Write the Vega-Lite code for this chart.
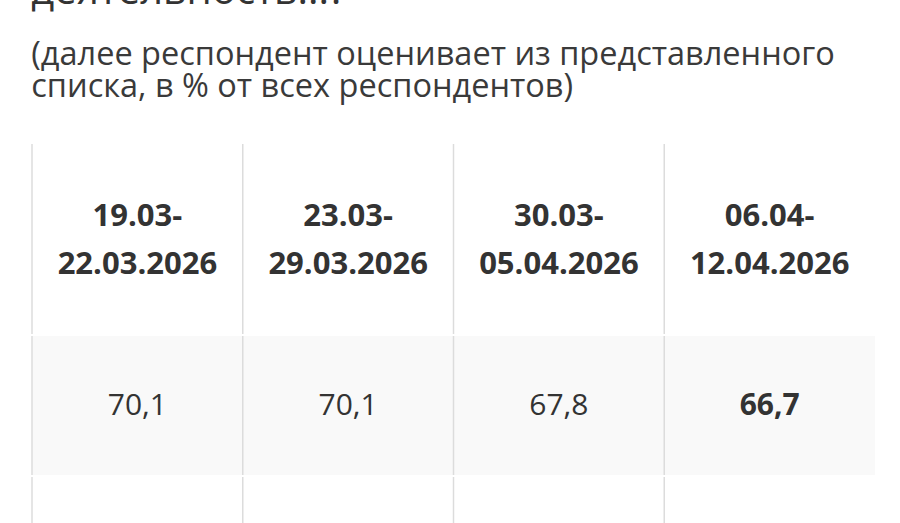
{
  "$schema": "https://vega.github.io/schema/vega-lite/v6.json",
  "description": "Survey table: share of respondents by weekly wave",
  "background": "white",
  "padding": {"left": 31, "right": 26, "top": -29, "bottom": 0},
  "title": {
    "text": "деятельность...?",
    "subtitle": ["(далее респондент оценивает из представленного", "списка, в % от всех респондентов)"],
    "anchor": "start",
    "font": "Open Sans",
    "fontSize": 40,
    "fontWeight": "normal",
    "color": "#333333",
    "subtitleFont": "Open Sans",
    "subtitleFontSize": 32.5,
    "subtitleLineHeight": 32,
    "subtitleColor": "#3a3a3a",
    "subtitlePadding": 27,
    "offset": 40
  },
  "data": {
    "values": [
      {"period": "19.03-\n22.03.2026", "value": 70.1, "latest": false},
      {"period": "23.03-\n29.03.2026", "value": 70.1, "latest": false},
      {"period": "30.03-\n05.04.2026", "value": 67.8, "latest": false},
      {"period": "06.04-\n12.04.2026", "value": 66.7, "latest": true}
    ]
  },
  "spacing": 0,
  "vconcat": [
    {
      "width": 843,
      "height": 190,
      "encoding": {
        "x": {"field": "period", "type": "nominal", "sort": null, "axis": null,
              "scale": {"paddingInner": 0, "paddingOuter": 0}}
      },
      "layer": [
        {"mark": {"type": "rule", "color": "#dcdcdc", "strokeWidth": 1.5},
         "encoding": {"x": {"field": "period", "type": "nominal", "sort": null, "bandPosition": 0}}},
        {"mark": {"type": "text", "font": "Open Sans", "fontSize": 31, "fontWeight": "bold",
                  "color": "#333333", "lineBreak": "\n", "lineHeight": 48, "baseline": "middle", "dy": -22},
         "encoding": {"text": {"field": "period"}}}
      ]
    },
    {
      "width": 843,
      "height": 139,
      "view": {"fill": "#f9f9f9", "stroke": null},
      "encoding": {
        "x": {"field": "period", "type": "nominal", "sort": null, "axis": null,
              "scale": {"paddingInner": 0, "paddingOuter": 0}}
      },
      "layer": [
        {"mark": {"type": "rule", "color": "#dcdcdc", "strokeWidth": 1.5},
         "encoding": {"x": {"field": "period", "type": "nominal", "sort": null, "bandPosition": 0}}},
        {"transform": [{"filter": "!datum.latest"}],
         "mark": {"type": "text", "font": "Open Sans", "fontSize": 30, "color": "#333333", "baseline": "middle"},
         "encoding": {"text": {"field": "value", "type": "quantitative", "format": ".1f"}}},
        {"transform": [{"filter": "datum.latest"}],
         "mark": {"type": "text", "font": "Open Sans", "fontSize": 30, "fontWeight": "bold", "color": "#333333", "baseline": "middle"},
         "encoding": {"text": {"field": "value", "type": "quantitative", "format": ".1f"}}}
      ]
    },
    {
      "width": 843,
      "height": 60,
      "encoding": {
        "x": {"field": "period", "type": "nominal", "sort": null, "axis": null,
              "scale": {"paddingInner": 0, "paddingOuter": 0}}
      },
      "layer": [
        {"mark": {"type": "rule", "color": "#dcdcdc", "strokeWidth": 1.5},
         "encoding": {"x": {"field": "period", "type": "nominal", "sort": null, "bandPosition": 0}}}
      ]
    }
  ],
  "config": {
    "view": {"stroke": null},
    "locale": {
      "number": {"decimal": ",", "thousands": " ", "grouping": [3], "currency": ["", " ₽"]}
    }
  }
}
